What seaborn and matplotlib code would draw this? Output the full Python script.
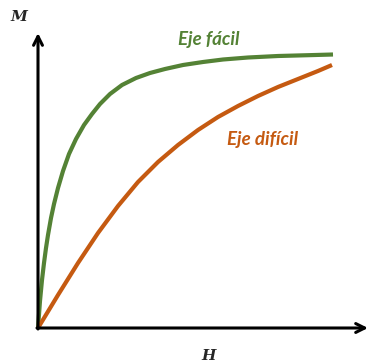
import matplotlib
matplotlib.use("Agg")
import matplotlib.pyplot as plt
import seaborn as sns
import pandas as pd

# Data (arbitrary units)
easy_H = [0, 0.2, 0.4, 0.6, 0.8, 1.0, 1.3, 1.6, 2.0, 2.5, 3.1, 3.8, 4.6, 5.4, 6.2,
          7.2, 8.4, 9.8, 11.2, 12.7, 14.5, 16.5, 18.5, 21.0, 24.0, 27.0, 29.5]
easy_M = [0, 2.7, 4.8, 6.5, 8.0, 9.3, 11.0, 12.4, 14.0, 15.7, 17.4, 18.9, 20.3, 21.4, 22.4,
          23.4, 24.3, 25.0, 25.5, 25.9, 26.3, 26.6, 26.85, 27.05, 27.2, 27.28, 27.35]
hard_H = [0, 2.0, 4.0, 6.0, 8.0, 10.0, 12.0, 14.0, 16.0, 18.0, 20.0, 22.0, 24.0, 26.0, 28.0, 29.4]
hard_M = [0, 3.3, 6.5, 9.5, 12.2, 14.6, 16.6, 18.3, 19.8, 21.1, 22.2, 23.2, 24.1, 24.9, 25.7, 26.3]
series_names = ["Eje fácil", "Eje difícil"]
colors = ["#548235", "#C55A11"]

df = pd.concat([
    pd.DataFrame({"H": easy_H, "M": easy_M, "eje": series_names[0]}),
    pd.DataFrame({"H": hard_H, "M": hard_M, "eje": series_names[1]}),
])

sns.set_style("white")
fig = plt.figure(figsize=(3.7, 3.64), dpi=100)
ax = fig.add_axes([0, 0, 1, 1])
sns.lineplot(data=df, x="H", y="M", hue="eje", palette=colors, sort=False,
             linewidth=3.0, legend=False, ax=ax, estimator=None)
for l in ax.lines:
    l.set_solid_capstyle("butt")
    l.set_solid_joinstyle("round")

ax.set_xlim(-3.8, 33.2)
ax.set_ylim(-3.6, 32.8)
ax.axis("off")

arrow = dict(arrowstyle="->", color="black", lw=2.2, mutation_scale=16,
             shrinkA=0, shrinkB=0)
ax.annotate("", xy=(33.0, 0), xytext=(-0.1, 0), arrowprops=arrow)
ax.annotate("", xy=(0, 29.5), xytext=(0, -0.1), arrowprops=arrow)

ax.text(17.1, 28.8, series_names[0], color=colors[0], fontsize=13.5,
        fontweight="bold", fontstyle="italic", family="Lato",
        ha="center", va="center")
ax.text(22.5, 18.8, series_names[1], color=colors[1], fontsize=13.5,
        fontweight="bold", fontstyle="italic", family="Lato",
        ha="center", va="center")
ax.text(-1.9, 31.1, "M", fontsize=11, fontweight="bold", fontstyle="italic",
        family="DejaVu Serif", ha="center", va="center")
ax.text(17.1, -2.8, "H", fontsize=11, fontweight="bold", fontstyle="italic",
        family="DejaVu Serif", ha="center", va="center")

fig.savefig("out.png", dpi=100)
